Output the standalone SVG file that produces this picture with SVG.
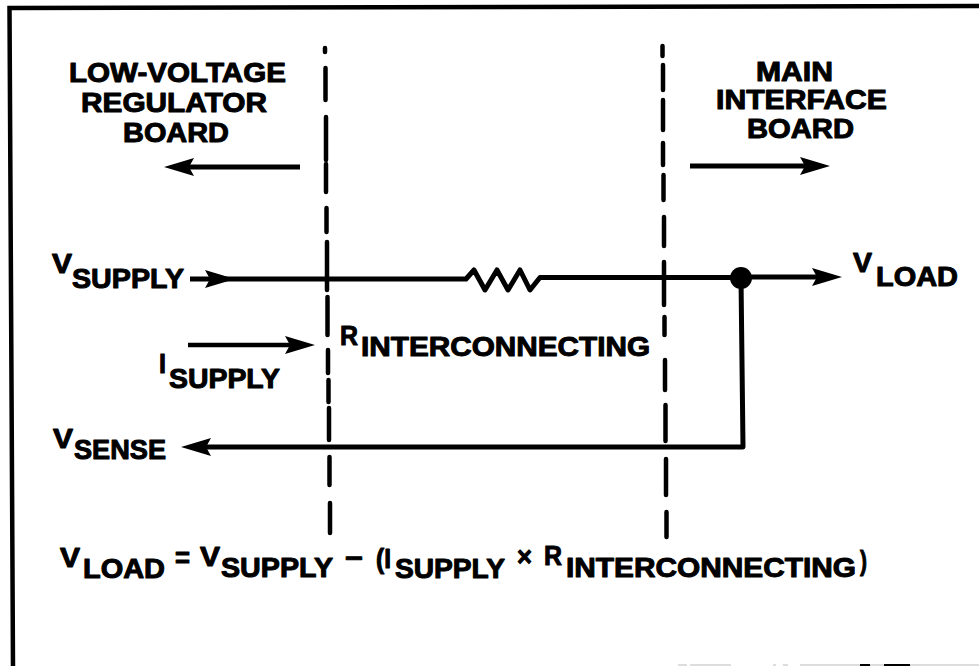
<svg xmlns="http://www.w3.org/2000/svg" width="979" height="666" viewBox="0 0 979 666">
<style>
text{font-family:"Liberation Sans",Arial,sans-serif;font-weight:700;font-size:27px;fill:#000;stroke:#000;stroke-width:1px;stroke-linejoin:round}
.w{fill:none;stroke:#000;stroke-width:5;stroke-linejoin:round}
.t{fill:none;stroke:#000;stroke-width:4.500}
.d{fill:none;stroke:#000;stroke-width:4.500;stroke-linecap:round}
.f{fill:none;stroke:#000;stroke-width:4.500}
.g{fill:none;stroke:#ddd;stroke-width:2}
.b{fill:none;stroke:#000;stroke-width:2}
</style>
<defs>
<marker id="a" markerUnits="userSpaceOnUse" viewBox="0 0 32 20" refX="22" refY="10" markerWidth="32" markerHeight="20" orient="auto"><path d="M32 10L2 1L7 10L2 19Z" fill="#000"/></marker>
</defs>
<rect width="979" height="666" fill="#fff"/>
<path id="frame" class="f" d="M979 6L9.500 8L13 666"/>
<path id="edge-fragments-grey" class="g" d="M678 665H687M690 665H731M773 665H776M783 665H788M800 665H979"/>
<path id="edge-fragments-black" class="b" d="M860 665H870M884 665H910"/>
<g id="connectors">
<path class="d" d="M325 48V52M325.500 68V100M326 117V160M326 164V192M326.500 208V232M327 242V290M327.500 297V335M328 350V373M328.500 380V402M329 408V440M329.500 457V485M330 503V533"/>
<path class="d" d="M662.500 46V56M663 65V90M663 100V130M663 143V165M663.500 175V200M664 217V246M664 262V305M664.500 317V335M665 360V390M665.500 405V441M666 459V495M666.500 512V537"/>
<path class="w" marker-end="url(#a)" d="M300 167H174"/>
<path class="w" marker-end="url(#a)" d="M690 166H820"/>
<path class="t" marker-end="url(#a)" d="M188 345H305"/>
<path class="w" marker-end="url(#a)" d="M190 279H225"/>
<path class="w" d="M225 279H466L474 270L485 290L497 270L508 290L520 270L530 290L540 277.500H741"/>
<path class="w" marker-end="url(#a)" d="M741 277H832"/>
<path class="w" marker-end="url(#a)" d="M741 278L743 447H191"/>
<circle cx="741" cy="278" r="11" fill="#000"/>
</g>
<g id="label-low-voltage"><text x="69" y="82" textLength="217" lengthAdjust="spacingAndGlyphs">LOW-VOLTAGE</text><text x="81" y="112" textLength="186" lengthAdjust="spacingAndGlyphs">REGULATOR</text><text x="123" y="142" textLength="106" lengthAdjust="spacingAndGlyphs">BOARD</text></g>
<g id="label-main"><text x="756" y="81" textLength="77" lengthAdjust="spacingAndGlyphs">MAIN</text><text x="716" y="109" textLength="171" lengthAdjust="spacingAndGlyphs">INTERFACE</text><text x="747" y="138" textLength="107" lengthAdjust="spacingAndGlyphs">BOARD</text></g>
<g id="v-supply"><text x="52" y="273" textLength="20" lengthAdjust="spacingAndGlyphs">V</text><text x="72" y="288" textLength="112" lengthAdjust="spacingAndGlyphs">SUPPLY</text></g>
<g id="v-load"><text x="853" y="272" textLength="19" lengthAdjust="spacingAndGlyphs">V</text><text x="876" y="286" textLength="82" lengthAdjust="spacingAndGlyphs">LOAD</text></g>
<g id="i-supply"><text x="159" y="373" textLength="7" lengthAdjust="spacingAndGlyphs">I</text><text x="169" y="388" textLength="111" lengthAdjust="spacingAndGlyphs">SUPPLY</text></g>
<g id="r-interconnecting"><text x="340" y="345" textLength="18" lengthAdjust="spacingAndGlyphs">R</text><text x="361" y="356" textLength="289" lengthAdjust="spacingAndGlyphs">INTERCONNECTING</text></g>
<g id="v-sense"><text x="53" y="448" textLength="20" lengthAdjust="spacingAndGlyphs">V</text><text x="74" y="459" textLength="92" lengthAdjust="spacingAndGlyphs">SENSE</text></g>
<g id="equation">
<text x="60" y="567" textLength="20" lengthAdjust="spacingAndGlyphs">V</text><text x="83" y="578" textLength="82" lengthAdjust="spacingAndGlyphs">LOAD</text>
<text x="175" y="567" textLength="15" lengthAdjust="spacingAndGlyphs">=</text>
<text x="200" y="566" textLength="20" lengthAdjust="spacingAndGlyphs">V</text><text x="221" y="577" textLength="112" lengthAdjust="spacingAndGlyphs">SUPPLY</text>
<text x="345" y="567" textLength="18" lengthAdjust="spacingAndGlyphs">−</text>
<text x="376" y="568" textLength="15" lengthAdjust="spacingAndGlyphs">(I</text><text x="395" y="578" textLength="110" lengthAdjust="spacingAndGlyphs">SUPPLY</text>
<text x="517" y="566" textLength="15" lengthAdjust="spacingAndGlyphs">×</text>
<text x="544" y="565" textLength="18" lengthAdjust="spacingAndGlyphs">R</text><text x="566" y="577" textLength="290" lengthAdjust="spacingAndGlyphs">INTERCONNECTING</text>
<text x="860" y="570" textLength="7" lengthAdjust="spacingAndGlyphs">)</text>
</g>
</svg>
